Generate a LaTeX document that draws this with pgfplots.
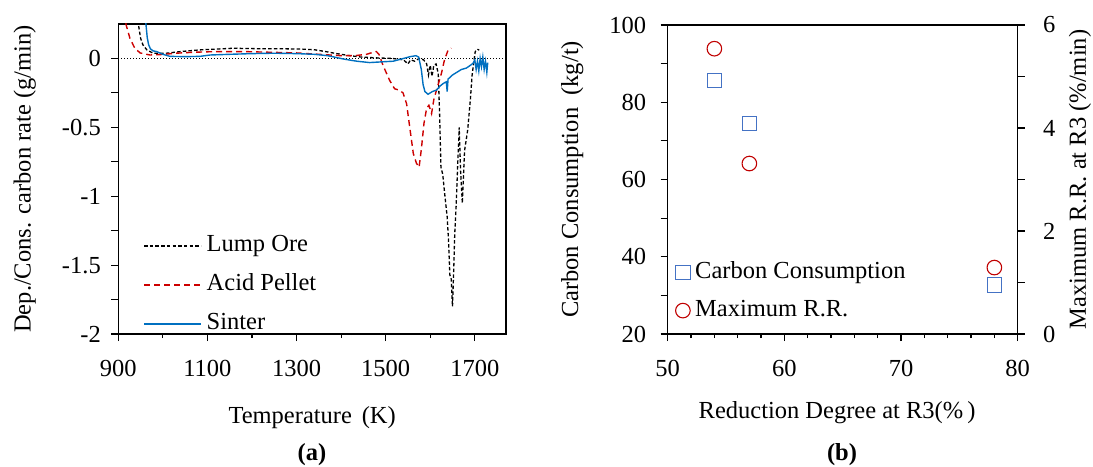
\documentclass[border=0pt]{standalone}
\usepackage{fontspec}
\setmainfont{Liberation Serif}
\usepackage{pgfplots}
\pgfplotsset{compat=1.18}
\definecolor{cred}{RGB}{204,0,0}
\definecolor{cblue}{RGB}{0,112,192}
\definecolor{sqblue}{RGB}{68,114,196}
\definecolor{cirred}{RGB}{192,0,0}
\begin{document}
\begin{tikzpicture}[font=\fontsize{24.5bp}{29bp}\selectfont]
\path[use as bounding box] (0,0) rectangle (1093bp,467bp);
\pgfplotsset{
  every axis/.append style={
    scale only axis, anchor=south west,
    /pgf/number format/assume math mode=true,
    /pgf/number format/1000 sep={},
    axis line style={line width=1.3bp, black},
    tick align=outside, major tick length=7bp, minor tick length=4bp,
    tick style={line width=1.1bp, black},
    legend cell align=left,
    xticklabel shift=16bp,
  },
}
% ---------------- (a) ----------------
\begin{axis}[
  at={(118.3bp,133bp)}, width=387.7bp, height=310bp,
  xmin=900, xmax=1770, ymin=-2, ymax=0.25,
  xtick={900,1100,1300,1500,1700}, minor xtick={1000,1200,1400,1600},
  ytick={-2,-1.75,-1.5,-1.25,-1,-0.75,-0.5,-0.25,0},
  yticklabels={-2,,-1.5,,-1,,-0.5,,0},
  yticklabel shift=7bp,
  xtick pos=bottom, ytick pos=left,
  xlabel={Temperature\hspace{0.4em}(K)},
  ylabel={Dep./Cons. carbon rate (g/min)},
  xlabel style={at={(axis description cs:0.5,-0.271)}, anchor=center},
  ylabel style={at={(axis description cs:-0.241,0.5)}, anchor=center},
  legend image code/.code={\draw[#1] (0bp,0bp) -- (57bp,0bp);},
  legend style={draw=none, fill=none, at={(axis description cs:0.064,-0.01)}, anchor=south west,
    inner sep=0pt, row sep=13bp, nodes={inner xsep=5bp, inner ysep=2bp, text height=17bp, text depth=5bp}},
]
\addplot[black, line width=1bp, dash pattern=on 1bp off 2bp, forget plot] coordinates {(900,0) (1770,0)};
\addplot[black, line width=1.3bp, dash pattern=on 3.5bp off 2.2bp] coordinates {
(940,0.40) (945,0.25) (950,0.147) (955,0.10) (964,0.062) (978,0.038) (1008,0.038)
(1040,0.05) (1083,0.062) (1120,0.068) (1157,0.074) (1190,0.072) (1230,0.07) (1270,0.07)
(1310,0.068) (1340,0.063) (1365,0.05) (1390,0.035) (1420,0.02) (1445,0.01) (1480,0.004)
(1515,0.0) (1540,-0.01) (1550,-0.04) (1556,-0.01) (1565,-0.02) (1575,0.0) (1585,-0.01)
(1592,-0.04) (1596,-0.12) (1600,-0.05) (1604,-0.13) (1608,-0.05) (1613,-0.04) (1618,-0.11)
(1621,-0.40) (1624,-0.79) (1628,-0.84) (1633,-1.0) (1638,-1.15) (1641,-1.32) (1644,-1.57)
(1647,-1.60) (1650,-1.80) (1653,-1.50) (1655,-1.27) (1658,-1.08) (1662,-0.74) (1665,-0.50)
(1668,-0.81) (1672,-1.05) (1677,-0.67) (1684,-0.52) (1690,-0.30) (1694,-0.12) (1698,-0.02)
(1701,0.05) (1706,0.067) (1710,0.06)};
\addlegendentry{Lump Ore}
\addplot[cred, line width=1.4bp, dash pattern=on 6bp off 4bp] coordinates {
(913,0.40) (917,0.25) (926,0.147) (937,0.074) (949,0.04) (971,0.025) (995,0.028)
(1030,0.038) (1070,0.045) (1120,0.05) (1180,0.05) (1240,0.045) (1300,0.04) (1350,0.03)
(1400,0.02) (1430,0.02) (1457,0.03) (1472,0.045) (1479,0.05) (1485,0.03) (1494,-0.05)
(1509,-0.16) (1520,-0.22) (1530,-0.23) (1539,-0.25) (1547,-0.33) (1554,-0.50) (1562,-0.69)
(1569,-0.76) (1575,-0.79) (1580,-0.66) (1586,-0.47) (1592,-0.36) (1597,-0.34) (1603,-0.40)
(1608,-0.30) (1614,-0.23) (1625,-0.11) (1632,-0.01) (1640,0.06) (1647,0.075)};
\addlegendentry{Acid Pellet}
\addplot[cblue, line width=1.4bp] coordinates {
(958,0.40) (962,0.25) (965,0.15) (968,0.10) (972,0.07) (978,0.055) (986,0.05) (1000,0.03)
(1016,0.015) (1050,0.013) (1083,0.015) (1106,0.025) (1150,0.03) (1200,0.035) (1250,0.038)
(1300,0.035) (1340,0.03) (1370,0.02) (1405,-0.004) (1435,-0.02) (1464,-0.03) (1490,-0.025)
(1517,-0.02) (1540,0.0) (1555,0.013) (1568,0.02) (1574,0.01) (1580,-0.08) (1584,-0.19)
(1588,-0.24) (1595,-0.26) (1605,-0.24) (1614,-0.23) (1622,-0.20) (1630,-0.18) (1636,-0.17)
(1638,-0.24) (1640,-0.15) (1650,-0.12) (1660,-0.10) (1670,-0.08) (1681,-0.07) (1690,-0.05)
(1696,-0.035) (1700,-0.01) (1703,-0.08) (1706,-0.02) (1709,-0.09) (1712,0.0) (1715,-0.06)
(1718,0.01) (1721,-0.08) (1724,-0.02) (1727,-0.10) (1729,-0.03)};
\addlegendentry{Sinter}
\end{axis}
\node[font=\fontsize{24.5bp}{29bp}\selectfont\bfseries] at (312bp,12bp) {(a)};
% ---------------- (b) ----------------
\begin{axis}[
  at={(667.7bp,133bp)}, width=350bp, height=309bp,
  xmin=50, xmax=80, ymin=20, ymax=100,
  xtick={50,60,70,80}, minor xtick={52,54,...,78},
  ytick={20,30,...,100}, yticklabels={20,,40,,60,,80,,100},
  yticklabel shift=11bp,
  xtick pos=bottom, ytick pos=left,
  xlabel={Reduction Degree at R3(\%\,)},
  ylabel={Carbon Consumption\hspace{0.5em}(kg/t)},
  xlabel style={at={(axis description cs:0.484,-0.256)}, anchor=center},
  ylabel style={at={(axis description cs:-0.273,0.5)}, anchor=center},
]
\addplot[only marks, mark=square, mark size=7.3bp, sqblue, line width=1.1bp] coordinates {(54,85.6) (57,74.5) (78,32.7)};
\end{axis}
\begin{axis}[
  at={(667.7bp,133bp)}, width=350bp, height=309bp,
  xmin=50, xmax=80, ymin=0, ymax=6,
  axis x line=none, axis y line*=right,
  ytick={0,1,2,3,4,5,6}, yticklabels={0,,2,,4,,6},
  yticklabel shift=15bp,
  ylabel={Maximum R.R. at R3 (\%/min)},
  ylabel style={at={(axis description cs:1.178,0.5)}, anchor=center},
  legend image code/.code={\draw[#1] plot coordinates {(0bp,0bp)};},
  legend style={draw=none, fill=none, at={(axis description cs:0.022,0.033)}, anchor=south west,
    inner sep=0pt, row sep=12bp, nodes={inner xsep=5bp, inner ysep=2bp, text height=17bp, text depth=5bp}},
]
\addlegendimage{only marks, mark=square, mark size=7.3bp, sqblue, line width=1.1bp}
\addlegendentry{Carbon Consumption}
\addplot[only marks, mark=o, mark size=7.3bp, cirred, line width=1.1bp] coordinates {(54,5.54) (57,3.31) (78,1.29)};
\addlegendentry{Maximum R.R.}
\end{axis}
\node[font=\fontsize{24.5bp}{29bp}\selectfont\bfseries] at (842bp,12bp) {(b)};
\end{tikzpicture}
\end{document}
